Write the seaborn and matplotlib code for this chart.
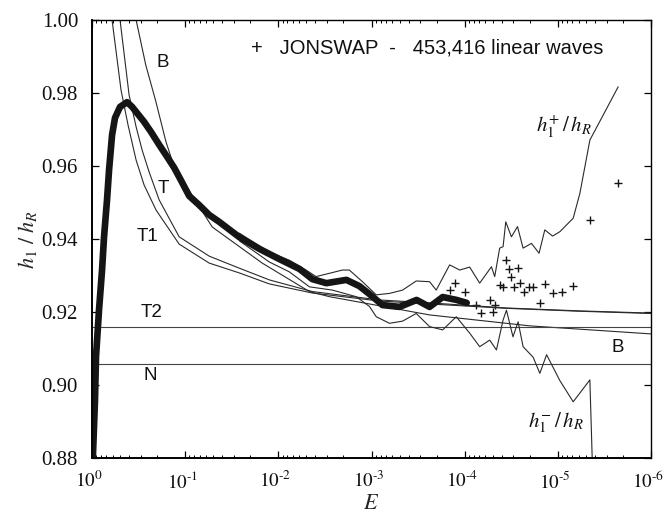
import numpy as np
import matplotlib
matplotlib.use('Agg')
import matplotlib.pyplot as plt
import matplotlib.transforms as mtransforms
import seaborn as sns
from matplotlib.ticker import LogLocator, NullFormatter, FixedLocator, FixedFormatter

# ---- data ----
# dense JONSWAP band (+ symbols forming a thick curve)
band_E = [0.99, 0.929, 0.906, 0.841, 0.780, 0.743, 0.690, 0.656, 0.609, 0.566, 0.500,
          0.420, 0.371, 0.328, 0.276, 0.232, 0.190, 0.156, 0.131, 0.110, 0.0906,
          0.0707, 0.0552, 0.0431, 0.0262, 0.0160, 0.00975, 0.00594, 0.00431, 0.00305,
          0.00186, 0.00135, 0.00105, 7.62e-4, 5.00e-4, 3.28e-4, 2.38e-4, 1.72e-4,
          1.22e-4, 9.51e-5]
band_h = [0.8767, 0.8959, 0.9077, 0.9205, 0.9315, 0.9405, 0.9507, 0.9589, 0.9685, 0.9732,
          0.9762, 0.9775, 0.9762, 0.9745, 0.9721, 0.9693, 0.9658, 0.9625, 0.9595, 0.9559,
          0.9518, 0.9493, 0.9466, 0.9447, 0.9405, 0.9373, 0.9345, 0.9318, 0.9290, 0.9279,
          0.9288, 0.9271, 0.9249, 0.9219, 0.9214, 0.9233, 0.9214, 0.9241, 0.9233, 0.9225]

# sparse JONSWAP points at small E
sparse_E = [1.45e-4, 1.26e-4, 1.0e-4, 7.48e-5, 6.61e-5, 5.30e-5, 4.96e-5, 4.76e-5, 4.21e-5,
            3.87e-5, 3.62e-5, 3.36e-5, 3.15e-5, 2.97e-5, 2.67e-5, 2.52e-5, 2.30e-5,
            2.03e-5, 1.84e-5, 1.56e-5, 1.38e-5, 1.14e-5, 9.12e-6, 6.84e-6, 4.53e-6, 2.25e-6]
sparse_h = [0.9260, 0.9279, 0.9255, 0.9219, 0.9196, 0.9233, 0.9201, 0.9219, 0.9274,
            0.9268, 0.9342, 0.9317, 0.9297, 0.9269, 0.9320, 0.9280, 0.9256,
            0.9268, 0.9268, 0.9224, 0.9277, 0.9253, 0.9256, 0.9272, 0.9452, 0.9553]

# upper confidence bound h1+/hR
up_E = [0.0262, 0.0125, 0.00762, 0.00504, 0.00394, 0.00283, 0.00205, 0.00173, 0.00125,
        8.89e-4, 6.40e-4, 4.64e-4, 3.31e-4, 2.38e-4, 2.02e-4, 1.45e-4, 1.13e-4, 8.83e-5,
        6.90e-5, 5.16e-5, 4.76e-5, 4.21e-5, 3.87e-5, 3.62e-5, 3.15e-5, 2.71e-5, 2.36e-5,
        1.92e-5, 1.59e-5, 1.38e-5, 1.14e-5, 9.51e-6, 6.84e-6, 5.80e-6, 4.53e-6, 2.25e-6]
up_h = [0.9416, 0.9364, 0.9342, 0.9315, 0.9297, 0.9306, 0.9315, 0.9315, 0.9283,
        0.9247, 0.9251, 0.9260, 0.9285, 0.9283, 0.9260, 0.9329, 0.9315, 0.9323,
        0.9279, 0.9324, 0.9297, 0.9375, 0.9379, 0.9447, 0.9406, 0.9434, 0.9375,
        0.9388, 0.9361, 0.9425, 0.9408, 0.9420, 0.9457, 0.9525, 0.9671, 0.9817]

# lower confidence bound h1-/hR
lo_E = [0.0262, 0.0125, 0.00762, 0.00464, 0.00263, 0.00146, 0.00105, 8.89e-4, 6.40e-4,
        4.64e-4, 3.31e-4, 2.38e-4, 1.72e-4, 1.23e-4, 8.83e-5, 6.90e-5, 5.38e-5, 4.56e-5,
        3.87e-5, 3.56e-5, 3.03e-5, 2.67e-5, 2.36e-5, 1.84e-5, 1.56e-5, 1.32e-5, 9.51e-6,
        6.84e-6, 4.53e-6, 4.24e-6]
lo_h = [0.9395, 0.9337, 0.9310, 0.9269, 0.9260, 0.9242, 0.9215, 0.9187, 0.9169,
        0.9175, 0.9196, 0.9160, 0.9151, 0.9187, 0.9142, 0.9105, 0.9123, 0.9096,
        0.9178, 0.9205, 0.9132, 0.9173, 0.9105, 0.9076, 0.9032, 0.9083, 0.9012,
        0.8954, 0.9014, 0.8767]

# theoretical curves
B_E = [0.371, 0.336, 0.265, 0.207, 0.161, 0.131, 0.0513, 0.0149, 0.00464, 0.00283,
       2.38e-4, 2.00e-5, 1e-6]
B_h = [1.004, 1.000, 0.9877, 0.9778, 0.9667, 0.9597, 0.9433, 0.9334, 0.9256, 0.9242,
       0.9192, 0.9162, 0.9140]

T_E = [0.538, 0.500, 0.400, 0.336, 0.290, 0.244, 0.190, 0.116, 0.0552, 0.0262, 0.0125,
       0.00431, 8.20e-4, 2.38e-4, 3.53e-5, 5.80e-6, 1e-6]
T_h = [1.004, 1.000, 0.9795, 0.9707, 0.9644, 0.9584, 0.9507, 0.9406, 0.9353, 0.9320,
       0.9288, 0.9256, 0.9233, 0.9225, 0.9211, 0.9203, 0.9197]

T1_E = [0.656, 0.609, 0.488, 0.410, 0.336, 0.276, 0.205, 0.116, 0.0552, 0.0262, 0.0125,
        0.00431, 8.20e-4, 2.38e-4, 3.53e-5, 5.80e-6, 1e-6]
T1_h = [1.004, 1.000, 0.9808, 0.9712, 0.9616, 0.9548, 0.9479, 0.9386, 0.9334, 0.9307,
        0.9277, 0.9252, 0.9230, 0.9222, 0.9210, 0.9202, 0.9196]

flat_E = [1.0, 1e-6]
T2_h = [0.9160, 0.9160]
N_h = [0.9058, 0.9058]

x_ticks = [1, 1e-1, 1e-2, 1e-3, 1e-4, 1e-5, 1e-6]
x_labels = [r'$10^{0}$', r'$10^{\text{-}1}$', r'$10^{\text{-}2}$', r'$10^{\text{-}3}$',
            r'$10^{\text{-}4}$', r'$10^{\text{-}5}$', r'$10^{\text{-}6}$']
y_ticks = [0.88, 0.90, 0.92, 0.94, 0.96, 0.98, 1.00]

# ---- style ----
sns.set_theme(style='ticks')
plt.rcParams['font.family'] = ['Liberation Serif', 'DejaVu Serif']
plt.rcParams['mathtext.fontset'] = 'stix'

fig = plt.figure(figsize=(6.66, 5.21), dpi=100)
ax = fig.add_axes([92 / 666, 1 - 458 / 521, (651 - 92) / 666, (458 - 20) / 521])
ax.set_xscale('log')

thin = dict(color='#2a2a2a', linewidth=0.8, sort=False, estimator=None, ax=ax)
sns.lineplot(x=B_E, y=B_h, **thin)
sns.lineplot(x=T_E, y=T_h, **thin)
sns.lineplot(x=T1_E, y=T1_h, **thin)
sns.lineplot(x=flat_E, y=T2_h, color='#444444', linewidth=0.8, sort=False, estimator=None, ax=ax)
sns.lineplot(x=flat_E, y=N_h, color='#444444', linewidth=0.8, sort=False, estimator=None, ax=ax)
sns.lineplot(x=up_E, y=up_h, **thin)
sns.lineplot(x=lo_E, y=lo_h, **thin)
sns.lineplot(x=band_E, y=band_h, color='#151515', linewidth=4.8, sort=False,
             estimator=None, ax=ax)
sns.scatterplot(x=sparse_E, y=sparse_h, marker='+', s=28, color='#151515',
                linewidth=1.0, ax=ax)

ax.set_xlim(1, 1e-6)
ax.set_ylim(0.88, 1.00)

ax.xaxis.set_major_locator(FixedLocator(x_ticks))
ax.xaxis.set_major_formatter(FixedFormatter(x_labels))
ax.xaxis.set_minor_locator(LogLocator(base=10, subs=np.arange(2, 10)))
ax.xaxis.set_minor_formatter(NullFormatter())
ax.yaxis.set_major_locator(FixedLocator(y_ticks))
ax.yaxis.set_major_formatter(FixedFormatter(['%.2f' % v for v in y_ticks]))

ax.tick_params(which='major', direction='in', length=5, width=0.9, top=True, right=True,
               labelsize=15, color='black', labelcolor='#111111')
ax.tick_params(axis='x', which='major', pad=9, labelsize=13.8)
ax.tick_params(axis='y', which='major', pad=10)
ax.tick_params(which='minor', direction='in', length=2.5, width=0.7, top=True,
               bottom=True, color='black')
ax.tick_params(axis='y', which='minor', left=False, right=False)

# nudge x tick labels slightly left, as in the reference
shift = mtransforms.ScaledTranslation(-3 / 100, 0, fig.dpi_scale_trans)
for lbl in ax.get_xticklabels():
    lbl.set_transform(lbl.get_transform() + shift)

for side in ['left', 'bottom']:
    ax.spines[side].set_linewidth(1.4)
    ax.spines[side].set_color('black')
for side in ['top', 'right']:
    ax.spines[side].set_linewidth(1.0)
    ax.spines[side].set_color('black')

ax.set_xlabel(r'$E$', fontsize=16, labelpad=2)
ax.set_ylabel(r'$h_1\ /\ h_R$', fontsize=16, labelpad=2)

sans = ['Liberation Sans', 'DejaVu Sans']
lab = dict(transform=ax.transAxes, family=sans, fontsize=13.5, color='#111111',
           ha='center', va='center')
ax.text(0.127, 0.902, 'B', **lab)
ax.text(0.127, 0.616, 'T', **lab)
ax.text(0.100, 0.5046, 'T1', **lab)
ax.text(0.107, 0.333, 'T2', **lab)
ax.text(0.104, 0.189, 'N', **lab)
ax.text(0.941, 0.253, 'B', **lab)
ax.text(0.284, 0.936, '+   JONSWAP  -   453,416 linear waves', transform=ax.transAxes,
        family=sans, fontsize=14.5, color='#111111', ha='left', va='center')
ax.text(0.844, 0.756, r'$h_1^{+}\,/\,h_R$', transform=ax.transAxes, fontsize=15,
        ha='center', va='center', color='#111111')
ax.text(0.830, 0.080, r'$h_1^{-}\,/\,h_R$', transform=ax.transAxes, fontsize=15,
        ha='center', va='center', color='#111111')

fig.savefig('out.png', dpi=100)
